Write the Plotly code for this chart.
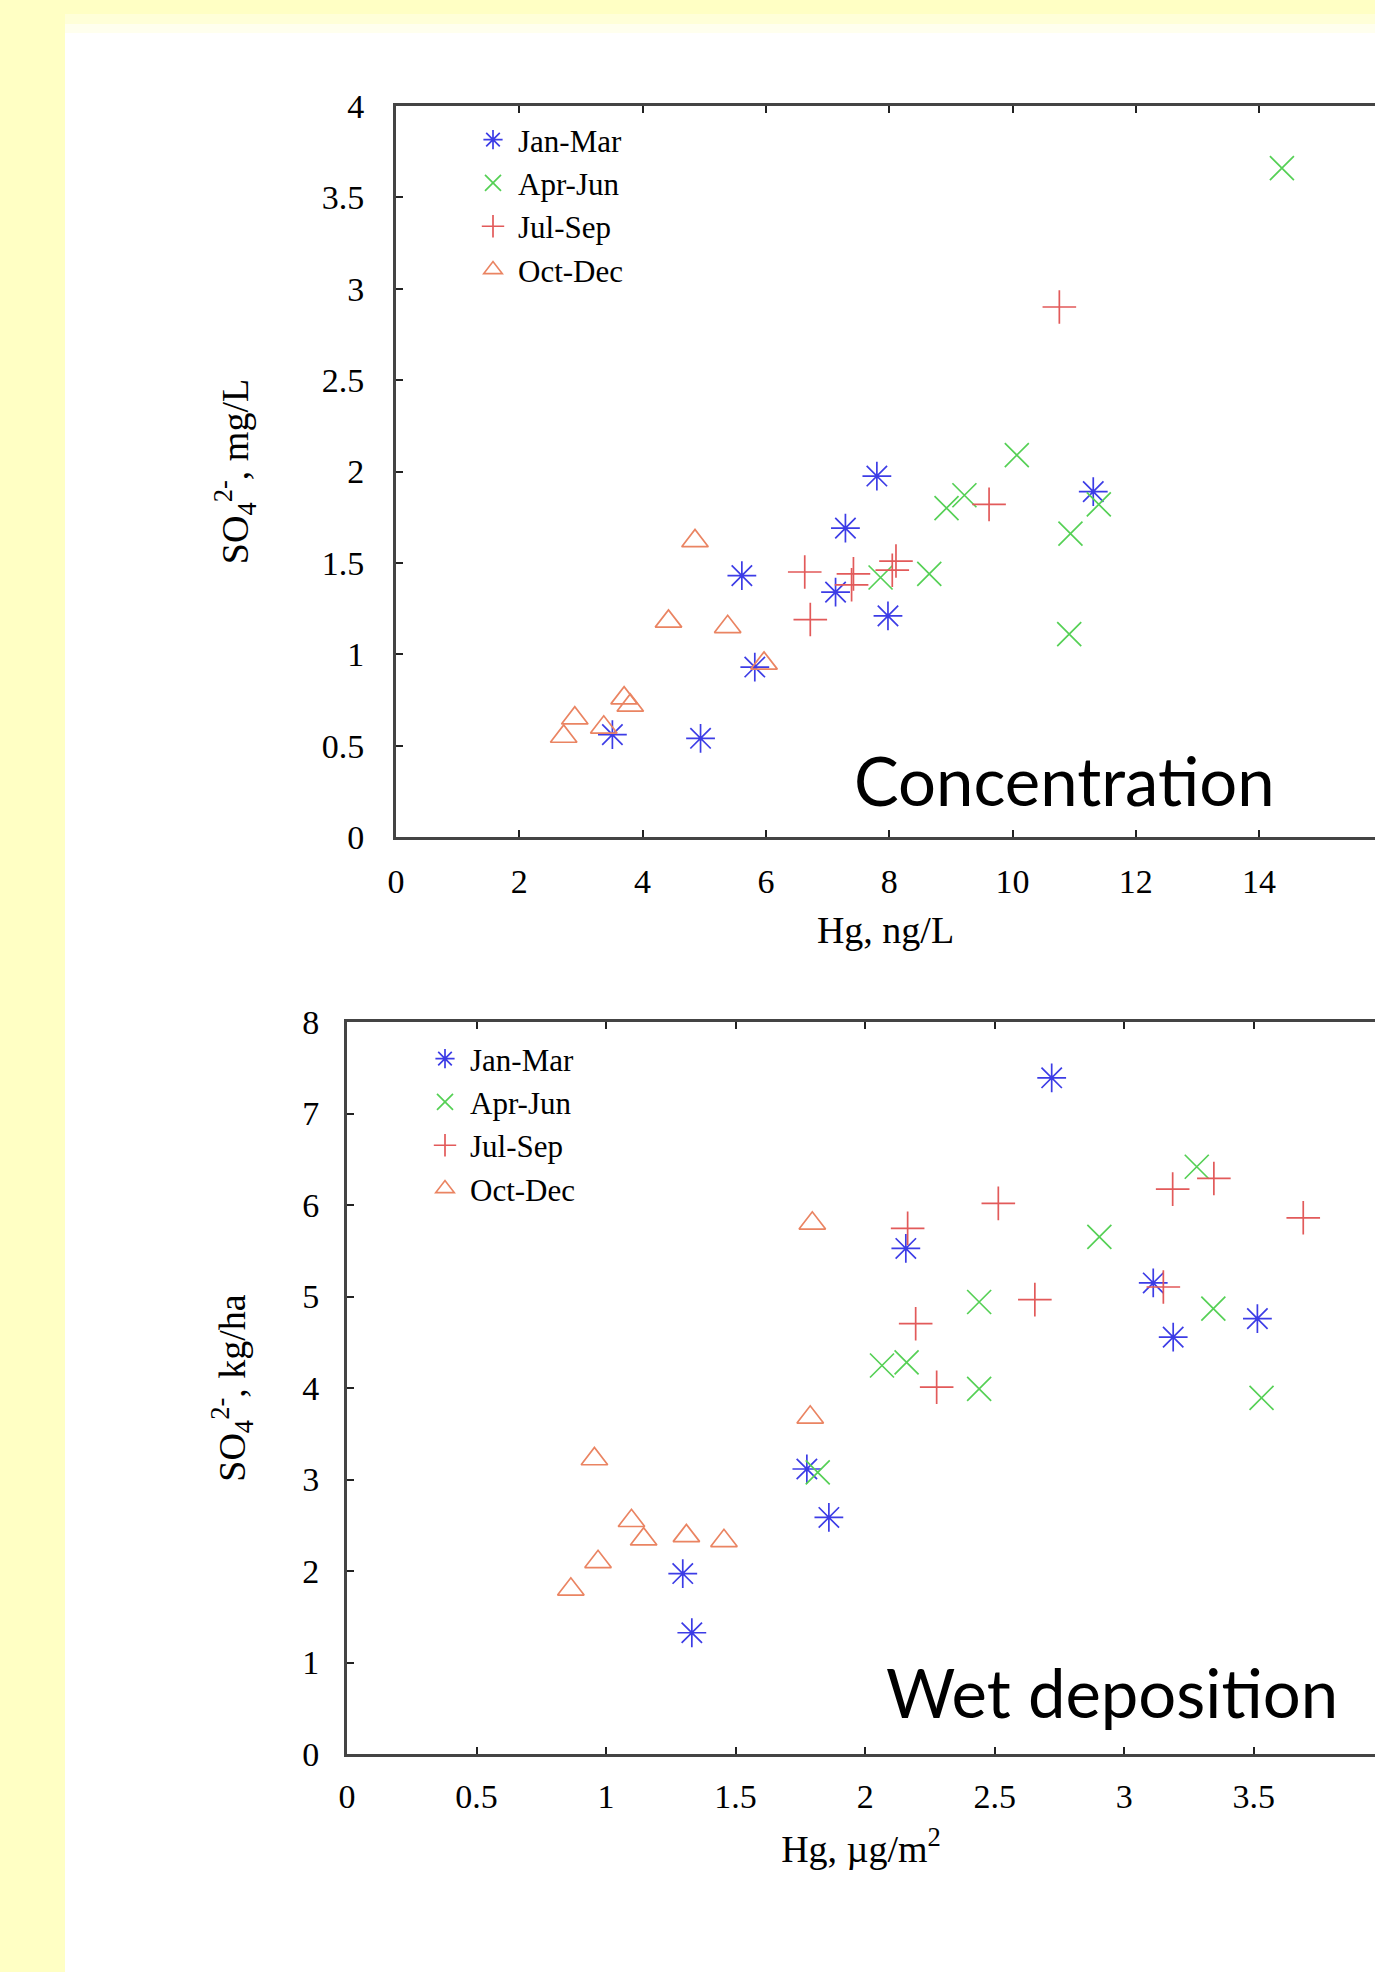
import plotly.graph_objects as go

# ---------------- data: Concentration panel ----------------
season_names = ["Jan-Mar", "Apr-Jun", "Jul-Sep", "Oct-Dec"]

conc_jan_hg = [7.80, 11.31, 7.29, 5.61, 7.13, 7.98, 5.82, 3.51, 4.94]
conc_jan_so4 = [1.975, 1.89, 1.69, 1.43, 1.34, 1.21, 0.93, 0.56, 0.54]

conc_apr_hg = [14.37, 10.07, 8.93, 9.22, 10.94, 11.40, 8.65, 7.86, 10.92]
conc_apr_so4 = [3.66, 2.09, 1.80, 1.87, 1.66, 1.82, 1.44, 1.42, 1.11]

conc_jul_hg = [6.63, 7.42, 7.39, 8.11, 8.05, 6.72, 9.62, 10.76]
conc_jul_so4 = [1.45, 1.44, 1.38, 1.51, 1.46, 1.19, 1.82, 2.90]

conc_oct_hg = [4.85, 4.42, 5.38, 5.97, 3.70, 3.80, 2.90, 2.72, 3.37]
conc_oct_so4 = [1.62, 1.18, 1.15, 0.95, 0.76, 0.72, 0.65, 0.55, 0.60]

# ---------------- data: Wet deposition panel ----------------
dep_jan_hg = [2.72, 2.157, 3.112, 3.514, 3.189, 1.775, 1.86, 1.296, 1.331]
dep_jan_so4 = [7.39, 5.525, 5.148, 4.758, 4.556, 3.115, 2.585, 1.972, 1.325]

dep_apr_hg = [3.28, 2.904, 2.44, 3.344, 2.065, 2.16, 2.44, 3.53, 1.817]
dep_apr_so4 = [6.418, 5.652, 4.94, 4.867, 4.246, 4.28, 3.99, 3.892, 3.078]

dep_jul_hg = [2.164, 2.514, 3.187, 3.346, 3.691, 3.151, 2.655, 2.195, 2.276]
dep_jul_so4 = [5.744, 6.018, 6.174, 6.29, 5.86, 5.104, 4.966, 4.703, 4.009]

dep_oct_hg = [1.796, 1.788, 0.955, 1.098, 1.145, 1.31, 1.455, 0.969, 0.864]
dep_oct_so4 = [5.80, 3.68, 3.224, 2.549, 2.348, 2.384, 2.33, 2.10, 1.80]

conc_x_ticks = [0, 2, 4, 6, 8, 10, 12, 14]
conc_y_ticks = [0, 0.5, 1, 1.5, 2, 2.5, 3, 3.5, 4]
dep_x_ticks = [0, 0.5, 1, 1.5, 2, 2.5, 3, 3.5]
dep_y_ticks = [0, 1, 2, 3, 4, 5, 6, 7, 8]

# ---------------- styles ----------------
W, H = 1375, 1972
colors = ["#3c3ce6", "#55d055", "#e25a5a", "#ea8462"]
symbols = ["asterisk-open", "x-thin-open", "cross-thin-open", "triangle-up-open"]
sizes = [24, 24, 24, 23]
serif = "Liberation Serif, Times New Roman, serif"
sans = "Lato, Open Sans, sans-serif"

fig = go.Figure()

conc_sets = [(conc_jan_hg, conc_jan_so4), (conc_apr_hg, conc_apr_so4),
             (conc_jul_hg, conc_jul_so4), (conc_oct_hg, conc_oct_so4)]
dep_sets = [(dep_jan_hg, dep_jan_so4), (dep_apr_hg, dep_apr_so4),
            (dep_jul_hg, dep_jul_so4), (dep_oct_hg, dep_oct_so4)]

for i, (xs, ys) in enumerate(conc_sets):
    fig.add_trace(go.Scatter(
        x=xs, y=ys, mode="markers", name=season_names[i],
        xaxis="x", yaxis="y", legend="legend",
        marker=dict(symbol=symbols[i], size=sizes[i],
                    line=dict(color=colors[i], width=1.7), color=colors[i])))

for i, (xs, ys) in enumerate(dep_sets):
    fig.add_trace(go.Scatter(
        x=xs, y=ys, mode="markers", name=season_names[i],
        xaxis="x2", yaxis="y2", legend="legend2",
        marker=dict(symbol=symbols[i], size=sizes[i],
                    line=dict(color=colors[i], width=1.7), color=colors[i])))

def px_x(p):
    return p / W

def px_y(p):
    return 1 - p / H

tick_font = dict(family=serif, size=34, color="black")
title_font = dict(family=serif, size=38, color="black")
legend_font = dict(family=serif, size=31, color="black")

axis_common = dict(
    showgrid=False, zeroline=False, ticks="inside", ticklen=7, tickwidth=2,
    tickcolor="#222", showline=True, linecolor="#444", linewidth=3,
    tickfont=tick_font, automargin=False,
)

fig.update_layout(
    width=W, height=H,
    margin=dict(l=0, r=0, t=0, b=0, autoexpand=False),
    paper_bgcolor="white", plot_bgcolor="white",
    xaxis=dict(axis_common, domain=[px_x(396), 1.0], range=[0, (W - 396) / 61.65],
               tickvals=conc_x_ticks, mirror="ticks", anchor="y", ticklabelstandoff=12,
               title=dict(text="Hg, ng/L", font=title_font, standoff=18)),
    yaxis=dict(axis_common, domain=[px_y(837), px_y(106)], range=[0, 4],
               tickvals=conc_y_ticks, anchor="x", ticklabelstandoff=22,
               title=dict(text="SO<sub>4</sub><sup>2-</sup>, mg/L",
                          font=title_font, standoff=62)),
    xaxis2=dict(axis_common, domain=[px_x(347), 1.0], range=[0, (W - 347.3) / 259],
                tickvals=dep_x_ticks, mirror="ticks", anchor="y2", ticklabelstandoff=10,
                title=dict(text="Hg, µg/m<sup>2</sup>", font=title_font, standoff=22)),
    yaxis2=dict(axis_common, domain=[px_y(1754), px_y(1022)], range=[0, 8],
                tickvals=dep_y_ticks, anchor="x2", ticklabelstandoff=18,
                title=dict(text="SO<sub>4</sub><sup>2-</sup>, kg/ha",
                           font=title_font, standoff=45)),
    legend=dict(x=px_x(468), y=px_y(113), xanchor="left", yanchor="top",
                bgcolor="rgba(0,0,0,0)", font=legend_font,
                tracegroupgap=0, itemwidth=40),
    legend2=dict(x=px_x(420), y=px_y(1032), xanchor="left", yanchor="top",
                 bgcolor="rgba(0,0,0,0)", font=legend_font,
                 tracegroupgap=0, itemwidth=40),
    shapes=[
        dict(type="rect", xref="paper", yref="paper", x0=0, x1=px_x(65), y0=0, y1=1,
             fillcolor="#ffffc4", line=dict(width=0), layer="below"),
        dict(type="rect", xref="paper", yref="paper", x0=0, x1=1, y0=px_y(14), y1=1,
             fillcolor="#ffffc4", line=dict(width=0), layer="below"),
        dict(type="rect", xref="paper", yref="paper", x0=px_x(65), x1=1, y0=px_y(24), y1=px_y(14),
             fillcolor="#ffffd8", line=dict(width=0), layer="below"),
        dict(type="rect", xref="paper", yref="paper", x0=px_x(65), x1=1, y0=px_y(33), y1=px_y(24),
             fillcolor="#ffffee", line=dict(width=0), layer="below"),
    ],
    annotations=[
        dict(text="Concentration", xref="paper", yref="paper", x=px_x(1064), y=px_y(780),
             xanchor="center", yanchor="middle", showarrow=False,
             font=dict(family=sans, size=67, color="black")),
        dict(text="Wet deposition", xref="paper", yref="paper", x=px_x(1112), y=px_y(1692),
             xanchor="center", yanchor="middle", showarrow=False,
             font=dict(family=sans, size=67, color="black")),
    ],
)

fig.write_html("out.html", post_script="document.body.style.margin='0';")
